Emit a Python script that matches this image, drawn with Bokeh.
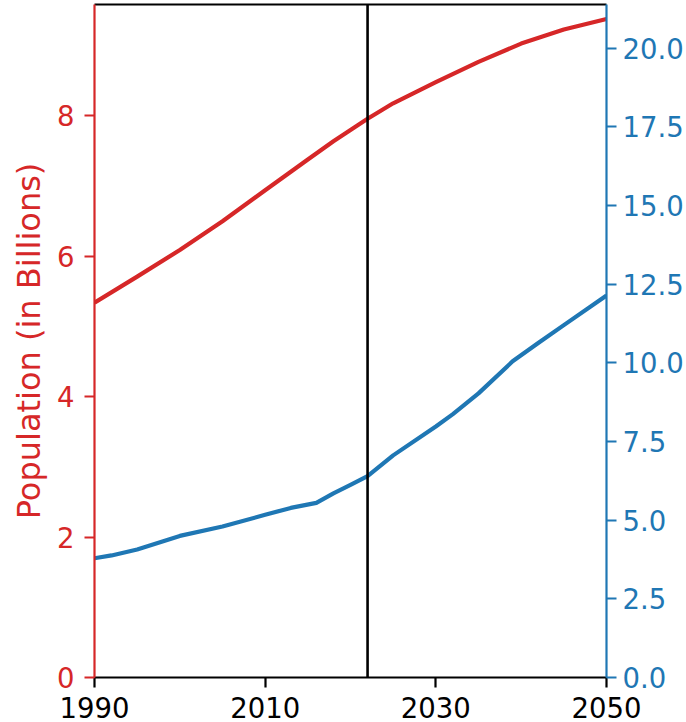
from bokeh.plotting import figure
from bokeh.models import (Range1d, LinearAxis, FixedTicker, SingleIntervalTicker,
                          NumeralTickFormatter, Span)
from bokeh.embed import file_html
from bokeh.resources import INLINE

# ---- data ----
x_ticks = [1990, 2010, 2030, 2050]
left_ticks_interval = 2
right_ticks_interval = 2.5
marker_year = 2022

years_pop = [1990, 1995, 2000, 2005, 2010, 2015, 2018, 2020, 2022, 2025, 2030, 2035, 2040, 2045, 2050]
population = [5.34, 5.71, 6.09, 6.50, 6.94, 7.38, 7.64, 7.80, 7.96, 8.18, 8.48, 8.77, 9.03, 9.23, 9.38]

years_b = [1990, 1992, 1995, 2000, 2005, 2010, 2013, 2016, 2018, 2020, 2022, 2025, 2030, 2032,
           2035, 2039, 2042, 2045, 2050]
blue_values = [3.79, 3.88, 4.07, 4.50, 4.80, 5.17, 5.39, 5.55, 5.85, 6.12, 6.40, 7.06, 7.98, 8.37,
               9.03, 10.05, 10.63, 11.20, 12.14]

RED = "#d62728"
BLUE = "#1f77b4"
FONT = "DejaVu Sans"
TICK_FS = "27.5px"
LABEL_FS = "32px"
SPINE_W = 2.2

p = figure(width=686, height=722,
           x_range=Range1d(1990, 2050), y_range=Range1d(0, 9.587),
           output_backend="svg", toolbar_location=None,
           min_border_left=94, min_border_top=4, min_border_right=0, min_border_bottom=45,
           background_fill_color="white", border_fill_color="white")
p.outline_line_color = None
p.xgrid.visible = False
p.ygrid.visible = False
p.extra_y_ranges = {"right": Range1d(0, 21.39)}


def style_axis(ax, color, standoff):
    ax.axis_line_color = color
    ax.axis_line_width = SPINE_W
    ax.major_tick_line_color = color
    ax.major_tick_line_width = SPINE_W
    ax.major_tick_out = 10
    ax.major_tick_in = 0
    ax.minor_tick_line_color = None
    ax.major_label_text_color = color
    ax.major_label_text_font = FONT
    ax.major_label_text_font_size = TICK_FS
    ax.major_label_standoff = standoff


# bottom axis
xa = p.xaxis[0]
xa.ticker = FixedTicker(ticks=x_ticks)
style_axis(xa, "black", 9)

# left axis
ya = p.yaxis[0]
ya.ticker = SingleIntervalTicker(interval=left_ticks_interval)
style_axis(ya, RED, 10)
ya.axis_label = "Population (in Billions)"
ya.axis_label_text_color = RED
ya.axis_label_text_font = FONT
ya.axis_label_text_font_size = LABEL_FS
ya.axis_label_text_font_style = "normal"
ya.axis_label_standoff = 6

# right axis
ra = LinearAxis(y_range_name="right",
                ticker=SingleIntervalTicker(interval=right_ticks_interval),
                formatter=NumeralTickFormatter(format="0.0"))
style_axis(ra, BLUE, 6)
p.add_layout(ra, "right")

# top spine
ta = LinearAxis(ticker=FixedTicker(ticks=[]))
ta.axis_line_color = "black"
ta.axis_line_width = SPINE_W
ta.major_tick_out = 0
ta.major_tick_in = 0
ta.minor_tick_out = 0
ta.minor_tick_in = 0
ta.major_label_standoff = 0
ta.major_label_text_font_size = "1px"
p.add_layout(ta, "above")

# lines
p.line(years_pop, population, line_color=RED, line_width=4.2, line_join="round")
p.line(years_b, blue_values, line_color=BLUE, line_width=4.2, line_join="round", y_range_name="right")

p.add_layout(Span(location=marker_year, dimension="height", line_color="black", line_width=2.6))

open("out.html", "w").write(file_html(p, INLINE))
